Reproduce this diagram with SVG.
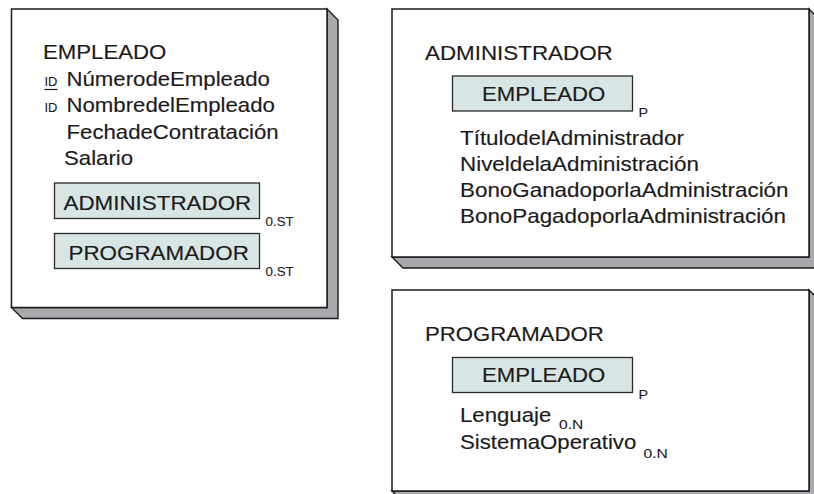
<svg xmlns="http://www.w3.org/2000/svg" width="814" height="494" viewBox="0 0 814 494">
<style>
.sh{fill:#a7a9ac;stroke:#1a1a1a;stroke-width:1.4;stroke-linejoin:miter}
.fr{fill:#ffffff;stroke:#1a1a1a;stroke-width:1.5}
.ib{fill:#d7e5e4;stroke:#2a2a2a;stroke-width:1.3}
text{font-family:"Liberation Sans",Arial,Helvetica,sans-serif;fill:#1c1a1b}
.t{font-size:20px;stroke:#1c1a1b;stroke-width:0.15}
.s{font-size:13px;stroke:#1c1a1b;stroke-width:0.1}
.id{font-size:12px;stroke:#1c1a1b;stroke-width:0.1}
</style>
<rect width="814" height="494" fill="#ffffff"/>
<g id="connectors"/>
<g id="node-empleado">
<polygon class="sh" points="327,9 338,20 338,318.5 22.5,318.5 11.5,307.5 327,307.5"/>
<rect class="fr" x="11.5" y="9" width="315.5" height="298.5"/>
<text class="t" transform="translate(43,58.5) scale(1.11,1)">EMPLEADO</text>
<text class="id" transform="translate(44.5,85.5) scale(1.08,1)">ID</text>
<line x1="44.5" y1="89.5" x2="57.5" y2="89.5" stroke="#1c1a1b" stroke-width="1.2"/>
<text class="t" transform="translate(66.5,86) scale(1.11,1)">NúmerodeEmpleado</text>
<text class="id" transform="translate(44.5,111.5) scale(1.08,1)">ID</text>
<text class="t" transform="translate(66.5,112) scale(1.11,1)">NombredelEmpleado</text>
<text class="t" transform="translate(66.5,138.5) scale(1.11,1)">FechadeContratación</text>
<text class="t" transform="translate(64,165) scale(1.11,1)">Salario</text>
<rect class="ib" x="54.5" y="183" width="205" height="35.5"/>
<text class="t" transform="translate(63.5,209.5) scale(1.12,1)">ADMINISTRADOR</text>
<text class="s" transform="translate(265.5,225.5) scale(1.03,1)">0.ST</text>
<rect class="ib" x="54.5" y="233.5" width="205" height="35"/>
<text class="t" transform="translate(68.5,260) scale(1.12,1)">PROGRAMADOR</text>
<text class="s" transform="translate(265.5,275.5) scale(1.03,1)">0.ST</text>
</g>
<g id="node-administrador">
<polygon class="sh" points="809,9 820,20 820,268 403,268 392,257 809,257"/>
<rect class="fr" x="392" y="9" width="417" height="248"/>
<text class="t" transform="translate(425,60) scale(1.12,1)">ADMINISTRADOR</text>
<rect class="ib" x="452.5" y="76" width="180" height="35"/>
<text class="t" transform="translate(482,100.5) scale(1.11,1)">EMPLEADO</text>
<text class="s" transform="translate(638.5,116.5) scale(1.1,1)">P</text>
<text class="t" transform="translate(460,145) scale(1.12,1)">TítulodelAdministrador</text>
<text class="t" transform="translate(460,171) scale(1.12,1)">NiveldelaAdministración</text>
<text class="t" transform="translate(460,197) scale(1.12,1)">BonoGanadoporlaAdministración</text>
<text class="t" transform="translate(460,223) scale(1.12,1)">BonoPagadoporlaAdministración</text>
</g>
<g id="node-programador">
<polygon class="sh" points="809,290 820,301 820,502 403,502 392,491 809,491"/>
<rect class="fr" x="392" y="290" width="417" height="201"/>
<text class="t" transform="translate(425,341) scale(1.11,1)">PROGRAMADOR</text>
<rect class="ib" x="452.5" y="357.5" width="180" height="35"/>
<text class="t" transform="translate(482,382) scale(1.11,1)">EMPLEADO</text>
<text class="s" transform="translate(638.5,398.5) scale(1.1,1)">P</text>
<text class="t" transform="translate(460,421.5) scale(1.11,1)">Lenguaje</text>
<text class="s" transform="translate(559,428.5) scale(1.2,1)">0.N</text>
<text class="t" transform="translate(460,448.5) scale(1.11,1)">SistemaOperativo</text>
<text class="s" transform="translate(643.5,457.5) scale(1.2,1)">0.N</text>
</g>
</svg>
